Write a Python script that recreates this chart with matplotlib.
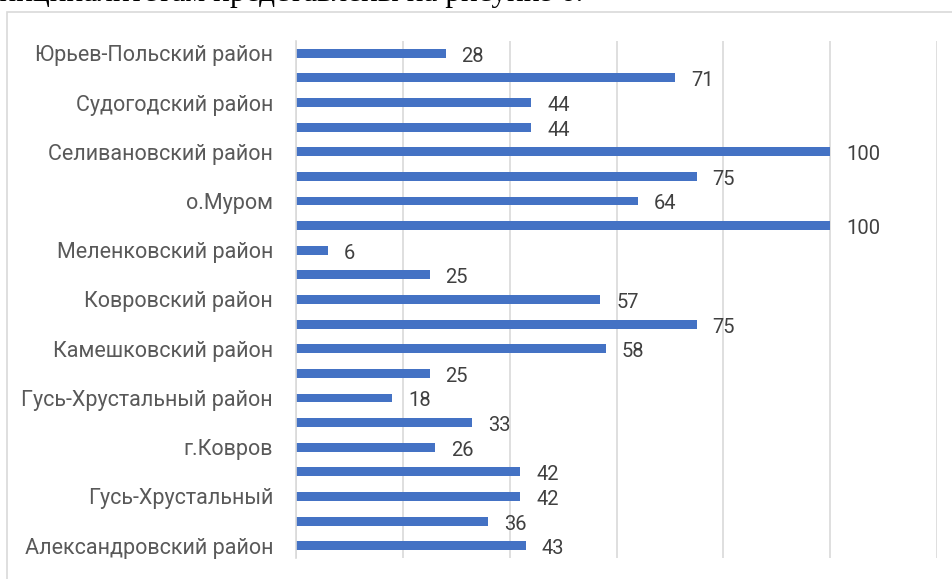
import matplotlib.pyplot as plt
from matplotlib.patches import Rectangle

# districts, top to bottom (every other label is hidden in the source chart)
labels = [
    "Юрьев-Польский район", "",
    "Судогодский район", "",
    "Селивановский район", "",
    "о.Муром", "",
    "Меленковский район", "",
    "Ковровский район", "",
    "Камешковский район", "",
    "Гусь-Хрустальный район", "",
    "г.Ковров", "",
    "Гусь-Хрустальный", "",
    "Александровский район",
]
values = [28, 71, 44, 44, 100, 75, 64, 100, 6, 25, 57,
          75, 58, 25, 18, 33, 26, 42, 42, 36, 43]
x_ticks = [0, 20, 40, 60, 80, 100, 120]

W, H = 953, 579
fig = plt.figure(figsize=(W / 100, H / 100), dpi=100)

# outer chart frame (cut at the right and bottom)
fig.patches.append(Rectangle((6.5 / W, -0.1), 1.2, 1 - 12 / H + 0.1,
                             transform=fig.transFigure, fill=False,
                             edgecolor="#d9d9d9", linewidth=1.2))

# tail of the document sentence above the chart
fig.text(583 / W, 1 - 1.5 / H, "муниципалитетам представлены на рисунке 6.",
         ha="right", va="baseline", fontsize=22.5, family="Liberation Serif",
         color="black")

ax = fig.add_axes([296 / W, 1 - 558 / H, (937 - 296) / W, (558 - 41) / H])
pos = list(range(len(values)))
ax.barh(pos, values, height=0.36, color="#4472C4")
for p, v in zip(pos, values):
    ax.text(v + 3.0, p + 0.12, str(v), va="center", ha="left",
            fontsize=14.5, family="Roboto", color="#404040")

ax.set_ylim(len(values) - 0.5, -0.5)
ax.set_xlim(0, 120)
ax.set_yticks(pos)
ax.set_yticklabels(labels, fontsize=15.5, family="Roboto", color="#595959")
ax.set_xticks(x_ticks)
ax.tick_params(axis="both", length=0, pad=16.5)
ax.tick_params(axis="x", labelbottom=False)
ax.grid(axis="x", color="#d9d9d9", linewidth=1.2)
ax.set_axisbelow(True)
for s in ["top", "right", "bottom"]:
    ax.spines[s].set_visible(False)
ax.spines["left"].set_color("#d9d9d9")
ax.spines["left"].set_linewidth(1.2)

fig.savefig("out.png", dpi=100)
